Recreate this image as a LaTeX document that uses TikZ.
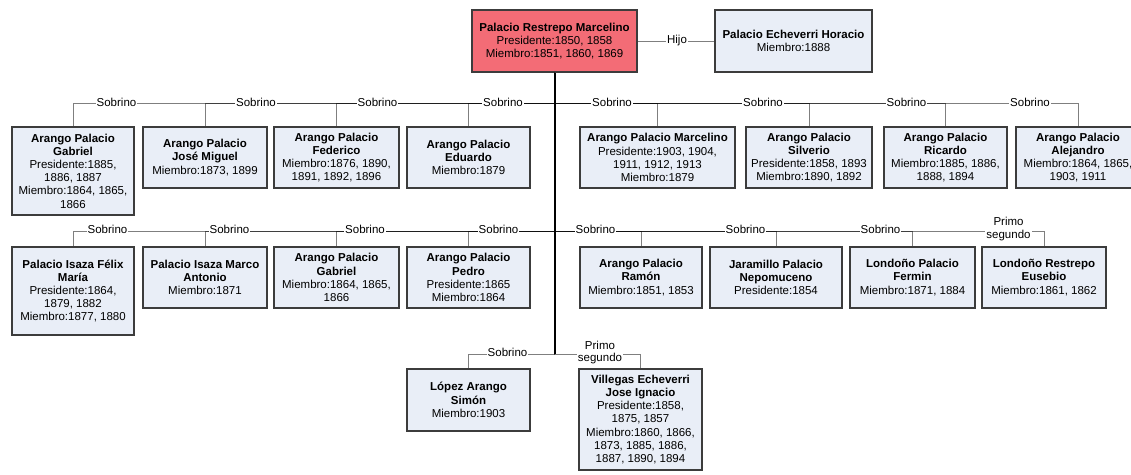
\documentclass[tikz,border=0pt]{standalone}
\usepackage{fontspec}
\setmainfont{Liberation Sans}
\definecolor{boxfill}{RGB}{233,238,247}
\definecolor{rootfill}{RGB}{243,108,118}
\definecolor{boxline}{RGB}{60,60,60}
\tikzset{
  person/.style={draw=boxline, line width=1.1pt, fill=boxfill, rectangle,
    align=center, inner sep=0pt, font=\fontsize{11.5}{13.2}\selectfont},
  rootbox/.style={person, fill=rootfill},
  conn/.style={draw=black, draw opacity=0.5, line width=0.9pt},
  trunkline/.style={draw=black, line width=2pt},
  lbl/.style={fill=white, inner xsep=1pt, inner ysep=0.5pt,
    font=\fontsize{11.5}{12.5}\selectfont, align=center},
}
\begin{document}
\begin{tikzpicture}[x=1pt,y=-1pt]
\useasboundingbox (0,0) rectangle (1131,474);
\fill[white] (0,0) rectangle (1131,474);

% --- top level ---
\node[rootbox, minimum width=165pt, minimum height=62pt] (root) at (554.5,41)
  {\textbf{Palacio Restrepo Marcelino}\\Presidente:1850, 1858\\Miembro:1851, 1860, 1869};
\node[person, minimum width=157pt, minimum height=62pt] (hor) at (793.5,41)
  {\textbf{Palacio Echeverri Horacio}\\Miembro:1888};

% --- first row ---
\node[person, minimum width=122pt, minimum height=88pt] (a1) at (73,171)
  {\textbf{Arango Palacio}\\\textbf{Gabriel}\\Presidente:1885,\\1886, 1887\\Miembro:1864, 1865,\\1866};
\node[person, minimum width=124pt, minimum height=61pt] (a2) at (205,157.5)
  {\textbf{Arango Palacio}\\\textbf{José Miguel}\\Miembro:1873, 1899};
\node[person, minimum width=125pt, minimum height=61pt] (a3) at (336.5,157.5)
  {\textbf{Arango Palacio}\\\textbf{Federico}\\Miembro:1876, 1890,\\1891, 1892, 1896};
\node[person, minimum width=123pt, minimum height=61pt] (a4) at (468.5,157.5)
  {\textbf{Arango Palacio}\\\textbf{Eduardo}\\Miembro:1879};
\node[person, minimum width=155pt, minimum height=61pt] (a5) at (657.5,157.5)
  {\textbf{Arango Palacio Marcelino}\\Presidente:1903, 1904,\\1911, 1912, 1913\\Miembro:1879};
\node[person, minimum width=126pt, minimum height=61pt] (a6) at (809,157.5)
  {\textbf{Arango Palacio}\\\textbf{Silverio}\\Presidente:1858, 1893\\Miembro:1890, 1892};
\node[person, minimum width=123pt, minimum height=61pt] (a7) at (945.5,157.5)
  {\textbf{Arango Palacio}\\\textbf{Ricardo}\\Miembro:1885, 1886,\\1888, 1894};
\node[person, minimum width=124pt, minimum height=61pt] (a8) at (1078,157.5)
  {\textbf{Arango Palacio}\\\textbf{Alejandro}\\Miembro:1864, 1865,\\1903, 1911};

% --- second row ---
\node[person, minimum width=122pt, minimum height=88pt] (b1) at (73,291)
  {\textbf{Palacio Isaza Félix}\\\textbf{María}\\Presidente:1864,\\1879, 1882\\Miembro:1877, 1880};
\node[person, minimum width=124pt, minimum height=61pt] (b2) at (205,277.5)
  {\textbf{Palacio Isaza Marco}\\\textbf{Antonio}\\Miembro:1871};
\node[person, minimum width=125pt, minimum height=61pt] (b3) at (336.5,277.5)
  {\textbf{Arango Palacio}\\\textbf{Gabriel}\\Miembro:1864, 1865,\\1866};
\node[person, minimum width=123pt, minimum height=61pt] (b4) at (468.5,277.5)
  {\textbf{Arango Palacio}\\\textbf{Pedro}\\Presidente:1865\\Miembro:1864};
\node[person, minimum width=122pt, minimum height=61pt] (b5) at (641,277.5)
  {\textbf{Arango Palacio}\\\textbf{Ramón}\\Miembro:1851, 1853};
\node[person, minimum width=132pt, minimum height=61pt] (b6) at (776,277.5)
  {\textbf{Jaramillo Palacio}\\\textbf{Nepomuceno}\\Presidente:1854};
\node[person, minimum width=125pt, minimum height=61pt] (b7) at (912.5,277.5)
  {\textbf{Londoño Palacio}\\\textbf{Fermin}\\Miembro:1871, 1884};
\node[person, minimum width=124pt, minimum height=61pt] (b8) at (1044,277.5)
  {\textbf{Londoño Restrepo}\\\textbf{Eusebio}\\Miembro:1861, 1862};

% --- third row ---
\node[person, minimum width=123pt, minimum height=62pt] (c1) at (468.5,400)
  {\textbf{López Arango}\\\textbf{Simón}\\Miembro:1903};
\node[person, minimum width=123pt, minimum height=101pt] (c2) at (640.5,419.5)
  {\textbf{Villegas Echeverri}\\\textbf{Jose Ignacio}\\Presidente:1858,\\1875, 1857\\Miembro:1860, 1866,\\1873, 1885, 1886,\\1887, 1890, 1894};

% --- junctions on the stem ---
\coordinate (j1) at (554.5,103.5);
\coordinate (j2) at (554.5,231);
\coordinate (j3) at (554.5,354);

% --- connectors ---
\draw[conn] (root.east) -- (hor.west);
\foreach \n in {a1,a2,a3,a4,a5,a6,a7,a8}
  \draw[conn] (root.south) -- (j1) -| (\n.north);
\foreach \n in {b1,b2,b3,b4,b5,b6,b7,b8}
  \draw[conn] (root.south) -- (j2) -| (\n.north);
\foreach \n in {c1,c2}
  \draw[conn] (root.south) -- (j3) -| (\n.north);
\draw[trunkline] (root.south) -- (j3);

% --- relationship labels ---
\node[lbl] (lh) at (677,41) {Hijo};
\node[lbl] (la1) at (116.5,102) {Sobrino};
\node[lbl] (la2) at (256,102) {Sobrino};
\node[lbl] (la3) at (377.5,102) {Sobrino};
\node[lbl] (la4) at (503,102) {Sobrino};
\node[lbl] (la5) at (612,102) {Sobrino};
\node[lbl] (la6) at (763,102) {Sobrino};
\node[lbl] (la7) at (906.5,102) {Sobrino};
\node[lbl] (la8) at (1030,102) {Sobrino};
\node[lbl] (lb1) at (107.5,229.5) {Sobrino};
\node[lbl] (lb2) at (229.5,229.5) {Sobrino};
\node[lbl] (lb3) at (365,229.5) {Sobrino};
\node[lbl] (lb4) at (498.5,229.5) {Sobrino};
\node[lbl] (lb5) at (595.5,229.5) {Sobrino};
\node[lbl] (lb6) at (745.5,229.5) {Sobrino};
\node[lbl] (lb7) at (880.5,229.5) {Sobrino};
\node[lbl] (lb8) at (1008.5,229) {Primo\\segundo};
\node[lbl] (lc1) at (507.5,352.5) {Sobrino};
\node[lbl] (lc2) at (600,352.5) {Primo\\segundo};
\end{tikzpicture}
\end{document}
